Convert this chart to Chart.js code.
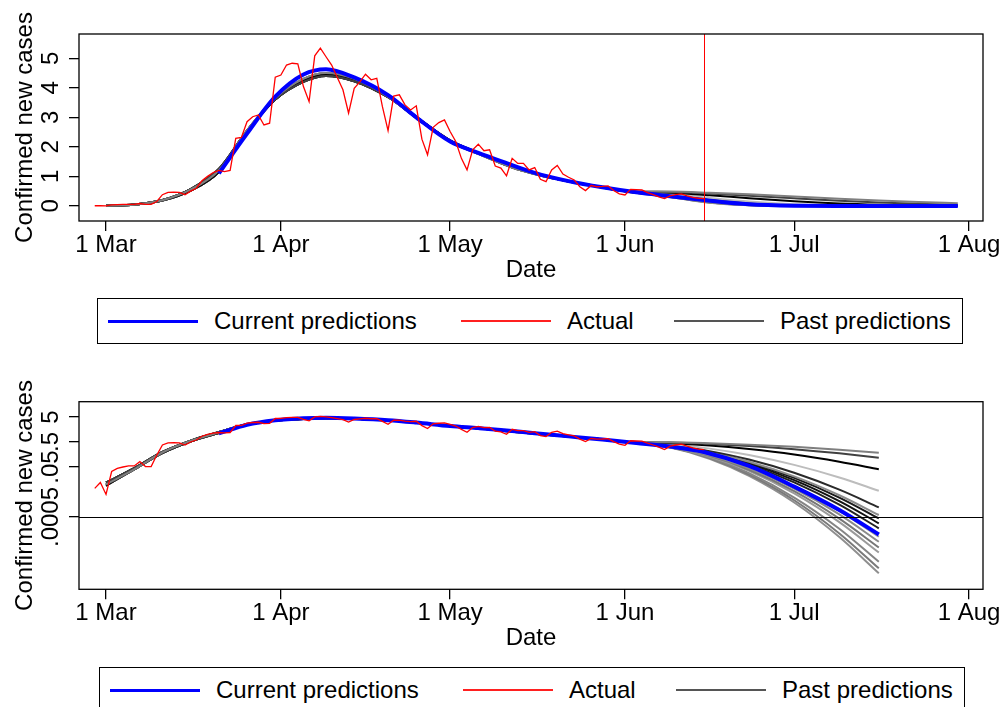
<!DOCTYPE html>
<html>
<head>
<meta charset="utf-8">
<script src="https://cdn.jsdelivr.net/npm/chart.js@4.4.1/dist/chart.umd.min.js"></script>
<style>
  html, body { margin: 0; padding: 0; background: #fff; }
  body { width: 1005px; height: 707px; position: relative; overflow: hidden; font-family: "Liberation Sans", Arial, sans-serif; }
  canvas { position: absolute; left: 0; }
  .legend { position: absolute; width: 866px; height: 46px; border: 1.3px solid #000; box-sizing: border-box; background: #fff; }
  .legend .item { position: absolute; top: 0; bottom: 0; display: flex; align-items: center; gap: 16px; font-size: 24px; color: #000; white-space: nowrap; }
  .legend .swatch { display: block; width: 90px; }
</style>
</head>
<body>
<canvas id="linChart" width="1005" height="300" style="top:0"></canvas>
<canvas id="logChart" width="1005" height="300" style="top:360px"></canvas>
<div id="legends"></div>
<script>
// days are counted from 1 Mar (day 0)
const tickDays = [0, 31, 61, 92, 122, 153];
const tickLabels = ['1 Mar', '1 Apr', '1 May', '1 Jun', '1 Jul', '1 Aug'];

const linTicks = [0, 1, 2, 3, 4, 5];
const linTickLabels = ['0', '1', '2', '3', '4', '5'];
const logTicks = [0.0005, 0.05, 0.5, 5];
const logTickLabels = ['.0005', '.05', '.5', '5'];

// actual daily cases, 28 Feb .. 15 Jun
const actualFirstDay = -2;
const actualValues = [
  0.007, 0.012, 0.004, 0.033, 0.044, 0.05, 0.055, 0.055, 0.082, 0.052,
  0.052, 0.15, 0.38, 0.46, 0.47, 0.46, 0.38, 0.5, 0.6, 0.85,
  1.0, 1.13, 1.2, 1.16, 1.2, 2.29, 2.32, 2.85, 3.02, 3.08,
  2.74, 2.80, 4.36, 4.43, 4.77, 4.83, 4.81, 4.04, 3.53, 5.08,
  5.34, 5.05, 4.77, 4.35, 3.93, 3.14, 3.98, 4.2, 4.46, 4.27,
  4.32, 3.36, 2.55, 3.72, 3.76, 3.42, 3.25, 3.39, 2.26, 1.73,
  2.66, 2.82, 2.91, 2.52, 2.18, 1.61, 1.22, 1.90, 2.09, 1.87,
  1.90, 1.35, 1.28, 1.02, 1.61, 1.44, 1.44, 1.22, 1.30, 0.90,
  0.82, 1.22, 1.37, 1.08, 0.97, 0.88, 0.65, 0.52, 0.69, 0.65,
  0.66, 0.68, 0.52, 0.41, 0.37, 0.56, 0.55, 0.54, 0.45, 0.38,
  0.31, 0.25, 0.34, 0.38, 0.41, 0.34, 0.29, 0.26, 0.25
];
const markerDay = 106;   // 15 Jun
const logLastDay = 137;  // log panel stops at 16 Jul

// current predictions
const currentDays = [20, 25, 30, 35, 39, 44, 50, 55, 61, 66, 70, 76, 82, 88, 94, 100, 106, 114, 122, 130, 137, 144, 151];
const currentValues = [1.1, 2.45, 3.7, 4.45, 4.63, 4.35, 3.75, 3.0, 2.18, 1.8, 1.52, 1.12, 0.84, 0.63, 0.46, 0.33, 0.2, 0.055, 0.0082, 0.00095, 1e-4, 7e-6, 3e-7];

// past predictions: shared early part (three variants) + own tail
const pastBodyDays = [0, 5, 10, 15, 20, 25, 30, 35, 39, 44, 50, 55, 61, 66, 72, 77, 82, 87, 92];
const pastBodies = [
  [0.01, 0.04, 0.19, 0.55, 1.2, 2.55, 3.65, 4.3, 4.5, 4.3, 3.7, 2.98, 2.18, 1.76, 1.3, 1.03, 0.83, 0.66, 0.5],
  [0.012, 0.045, 0.2, 0.57, 1.25, 2.55, 3.6, 4.2, 4.4, 4.22, 3.68, 3.0, 2.22, 1.8, 1.33, 1.05, 0.84, 0.67, 0.5],
  [0.009, 0.04, 0.18, 0.52, 1.15, 2.5, 3.6, 4.25, 4.45, 4.28, 3.72, 3.02, 2.2, 1.78, 1.31, 1.04, 0.83, 0.66, 0.5]
];
const pastBodyOf = [0, 1, 2, 0, 1, 2, 0, 1, 2, 0, 1, 2, 0, 1, 2, 0];
const pastTailDays = [100, 107, 114, 122, 130, 137, 144, 151];
const pastTails = [
  [0.486, 0.447, 0.393, 0.322, 0.246, 0.187, 0.134, 0.092],
  [0.473, 0.42, 0.347, 0.258, 0.176, 0.118, 0.0737, 0.043],
  [0.447, 0.363, 0.26, 0.157, 0.081, 0.0406, 0.018, 0.0072],
  [0.405, 0.272, 0.151, 0.0607, 0.019, 0.0056, 0.00137, 2.7e-4],
  [0.371, 0.216, 0.099, 0.0293, 0.0062, 0.00122, 1.86e-4, 2.2e-5],
  [0.36, 0.197, 0.0816, 0.021, 0.0037, 6e-4, 7.3e-5, 6.7e-6],
  [0.357, 0.19, 0.0758, 0.0183, 0.003, 4.4e-4, 4.9e-5, 4e-6],
  [0.35, 0.181, 0.068, 0.015, 0.00216, 2.8e-4, 2.7e-5, 1.8e-6],
  [0.347, 0.172, 0.0607, 0.0121, 0.00156, 1.77e-4, 1.43e-5, 8.1e-7],
  [0.334, 0.156, 0.0495, 0.0084, 8.8e-4, 8.1e-5, 5.2e-6, 2.2e-7],
  [0.328, 0.147, 0.0445, 0.0069, 6.4e-4, 5.1e-5, 2.8e-6, 1e-7],
  [0.322, 0.139, 0.039, 0.0054, 4.3e-4, 3e-5, 1.35e-6, 3.9e-8],
  [0.317, 0.132, 0.035, 0.0044, 3.1e-4, 1.9e-5, 7.2e-7, 1.8e-8],
  [0.31, 0.12, 0.0285, 0.003, 1.7e-4, 8.1e-6, 2.4e-7, 4.3e-9],
  [0.305, 0.113, 0.0246, 0.00234, 1.1e-4, 4.4e-6, 1.06e-7, 1.5e-9],
  [0.299, 0.107, 0.022, 0.0019, 7.9e-5, 2.8e-6, 5.7e-8, 6.8e-10]
];
const pastShades = ['#7f7f7f', '#404040', '#000000', '#bdbdbd', '#2a2a2a', '#8c8c8c', '#1a1a1a', '#111111',
                    '#222222', '#999999', '#8a8a8a', '#777777', '#9a9a9a', '#858585', '#7a7a7a', '#8f8f8f'];

const legendNames = ['Current predictions', 'Actual', 'Past predictions'];
const legendColors = ['#0000ff', '#ff2020', '#555555'];
const legendLineWidths = [3, 1.5, 2];
const legendItemX = [10, 363, 576];

Chart.defaults.font.family = '"Liberation Sans", Arial, sans-serif';
Chart.defaults.color = '#000';

// plot frame plus reference lines (Stata style box)
const frame = {
  id: 'frame',
  afterDatasetsDraw(chart, args, opts) {
    const { ctx, chartArea: a, scales: { x, y } } = chart;
    ctx.save();
    ctx.lineWidth = 1;
    if (opts.vDay != null) {
      const px = Math.round(x.getPixelForValue(opts.vDay)) + 0.5;
      ctx.strokeStyle = '#ff0000';
      ctx.beginPath(); ctx.moveTo(px, a.top); ctx.lineTo(px, a.bottom); ctx.stroke();
    }
    if (opts.hValue != null) {
      const py = Math.round(y.getPixelForValue(opts.hValue)) + 0.5;
      ctx.strokeStyle = '#000';
      ctx.beginPath(); ctx.moveTo(a.left, py); ctx.lineTo(a.right, py); ctx.stroke();
    }
    ctx.restore();
  },
  afterDraw(chart) {
    const { ctx, chartArea: a } = chart;
    ctx.save();
    ctx.strokeStyle = '#000';
    ctx.lineWidth = 1.3;
    ctx.strokeRect(a.left, a.top, a.right - a.left, a.bottom - a.top);
    ctx.restore();
  }
};

function makePanel(id, o) {
  const upTo = o.log ? logLastDay : Infinity;
  const pts = (days, vals) => days.map((d, i) => ({ x: d, y: vals[i] })).filter(p => p.x <= upTo);
  const actualDays = actualValues.map((v, i) => actualFirstDay + i);

  const datasets = [
    { label: 'Actual', data: pts(actualDays, actualValues), borderColor: '#ff0000', borderWidth: 1.3, tension: 0, order: 0 },
    { label: 'Current predictions', data: pts(currentDays, currentValues), borderColor: '#0000ff', borderWidth: 4,
      cubicInterpolationMode: 'monotone', order: 1 },
    ...pastTails.map((tail, i) => ({
      label: 'Past predictions',
      data: pts(pastBodyDays.concat(pastTailDays), pastBodies[pastBodyOf[i]].concat(tail)),
      borderColor: pastShades[i], borderWidth: 2, cubicInterpolationMode: 'monotone', order: 2
    }))
  ];

  const yTicks = o.log ? logTicks : linTicks;
  const yLabels = o.log ? logTickLabels : linTickLabels;

  new Chart(document.getElementById(id), {
    type: 'line',
    data: { datasets },
    options: {
      responsive: false,
      animation: false,
      devicePixelRatio: 1,
      layout: { padding: { top: o.plotTop, right: 22, left: 0, bottom: 0 } },
      elements: { point: { radius: 0 } },
      plugins: {
        legend: { display: false },
        tooltip: { enabled: false },
        frame: { vDay: o.vDay, hValue: o.hValue }
      },
      scales: {
        x: {
          type: 'linear', min: -4.79, max: 155.47, bounds: 'data',
          afterBuildTicks: s => { s.ticks = tickDays.map(v => ({ value: v })); },
          afterFit: s => { s.height = o.xAxisHeight; },
          ticks: { autoSkip: false, maxRotation: 0, padding: 0, font: { size: 24 },
                   callback: (v, i) => tickLabels[i] },
          grid: { drawOnChartArea: false, tickLength: 10, color: '#000', lineWidth: 1.3 },
          border: { display: false },
          title: { display: true, text: 'Date', font: { size: 24 }, padding: { top: 0, bottom: o.titlePad } }
        },
        y: {
          type: o.log ? 'logarithmic' : 'linear',
          min: o.yMin, max: o.yMax, bounds: 'data',
          afterBuildTicks: s => { s.ticks = yTicks.map(v => ({ value: v })); },
          afterFit: s => { s.width = 79; },
          ticks: { autoSkip: false, minRotation: 90, maxRotation: 90, crossAlign: 'center',
                   padding: o.yTickPad, font: { size: 24 }, callback: (v, i) => yLabels[i] },
          grid: { drawOnChartArea: false, tickLength: 10, color: '#000', lineWidth: 1.3 },
          border: { display: false },
          title: { display: true, text: 'Confirmed new cases', font: { size: 24 }, padding: { top: 10.6, bottom: 0 } }
        }
      }
    },
    plugins: [frame]
  });
}

makePanel('linChart', { log: false, plotTop: 34, xAxisHeight: 79, titlePad: 15, yMin: -0.51, yMax: 5.82, yTickPad: 11, vDay: markerDay });
makePanel('logChart', { log: true, plotTop: 41.7, xAxisHeight: 70.7, titlePad: 6.8, yMin: 6.4e-7, yMax: 20.5, yTickPad: -12, hValue: 0.0005 });

function legendHtml(left, top) {
  return `<div class="legend" style="left:${left}px;top:${top}px">` + legendNames.map((name, i) => `
    <div class="item" style="left:${legendItemX[i]}px">
      <span class="swatch" style="height:${legendLineWidths[i]}px;background:${legendColors[i]}"></span>
      <span>${name}</span>
    </div>`).join('') + `</div>`;
}
document.getElementById('legends').innerHTML = legendHtml(97, 298) + legendHtml(99, 667);
</script>
</body>
</html>
